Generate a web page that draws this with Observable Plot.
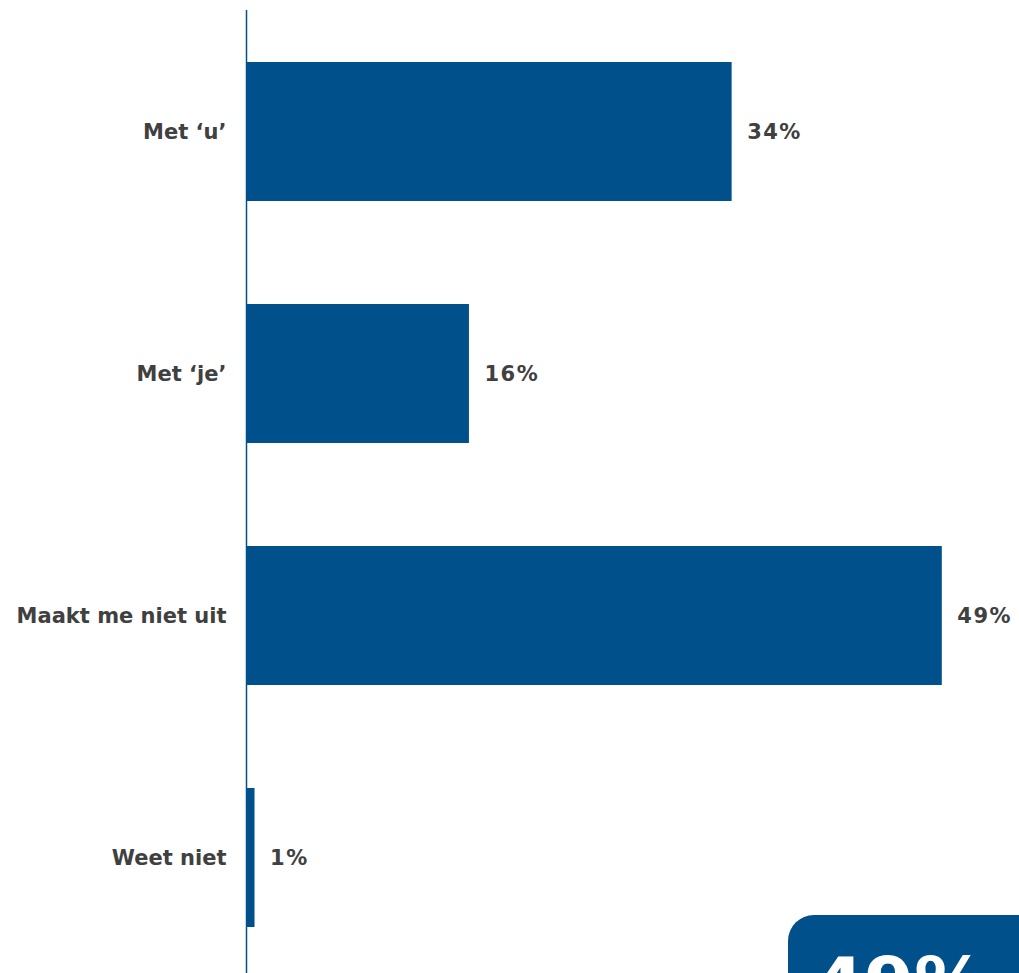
<!DOCTYPE html>
<html>
<head>
<meta charset="utf-8">
<script src="https://cdn.jsdelivr.net/npm/d3@7"></script>
<script src="https://cdn.jsdelivr.net/npm/@observablehq/plot@0.6"></script>
<style>
  html, body { margin: 0; padding: 0; background: #fff; overflow: hidden; width: 1019px; height: 973px; }
  #wrap { position: relative; width: 1019px; height: 973px; overflow: hidden; }
  #badge { position: absolute; left: 788px; top: 915px; width: 300px; height: 140px;
    background: #00518B; border-radius: 26px; }
  #badge span { position: absolute; left: 26px; top: 32px; color: #fff;
    font: bold 72px "DejaVu Sans", Verdana, sans-serif; line-height: 1; }
  .vals text { letter-spacing: 1.5px; }
</style>
</head>
<body>
<div id="wrap"><div id="chart"></div><div id="badge"><span id="badgeText"></span></div></div>
<script>
const categories = ["Met \u2018u\u2019", "Met \u2018je\u2019", "Maakt me niet uit", "Weet niet"];
const values = [34.2, 15.7, 49.0, 0.6];
const labels = ["34%", "16%", "49%", "1%"];
const badgeLabel = "49%";

const data = categories.map((c, i) => ({category: c, value: values[i], label: labels[i]}));
const blue = "#00518B";
const font = "'DejaVu Sans', Verdana, sans-serif";

const chart = Plot.plot({
  width: 1019,
  height: 973,
  marginLeft: 246,
  marginRight: 63,
  marginTop: 10,
  marginBottom: 0,
  style: {fontFamily: font, background: "white"},
  x: {domain: [0, 50], axis: null},
  y: {domain: categories, paddingInner: 0.426, paddingOuter: 0.2025, align: 0.53, label: null},
  marks: [
    Plot.barX(data, {x: "value", y: "category", fill: blue}),
    Plot.ruleX([0], {stroke: blue, strokeWidth: 1.5}),
    Plot.axisY({tickSize: 0, tickPadding: 20, fontSize: 21, fontWeight: "bold", fill: "#404040", label: null}),
    Plot.text(data, {x: "value", y: "category", text: "label", textAnchor: "start", dx: 15,
      fontSize: 21, fontWeight: "bold", fill: "#404040", className: "vals"})
  ]
});
document.getElementById("chart").appendChild(chart);
document.getElementById("badgeText").textContent = badgeLabel;
</script>
</body>
</html>
